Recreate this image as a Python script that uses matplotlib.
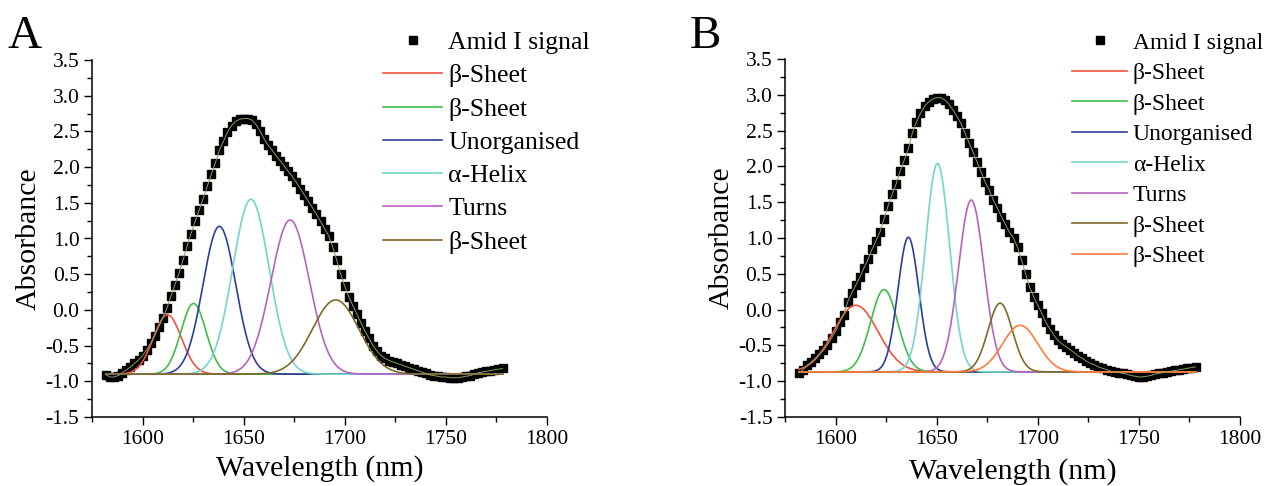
import matplotlib.pyplot as plt
import numpy as np

plt.rcParams['font.family'] = ['Liberation Serif', 'DejaVu Serif']

# wavelength sampling of the measured Amid I signal (nm)
wl = np.arange(1582, 1780, 2)

signal_a = [-0.91, -0.94, -0.94, -0.92, -0.88, -0.84, -0.80, -0.75, -0.70, -0.64,
            -0.56, -0.47, -0.36, -0.24, -0.11, 0.02, 0.19, 0.35, 0.51, 0.70,
            0.89, 1.07, 1.24, 1.40, 1.56, 1.73, 1.90, 2.06, 2.24, 2.36,
            2.49, 2.58, 2.64, 2.67, 2.68, 2.68, 2.66, 2.60, 2.51, 2.40,
            2.31, 2.24, 2.16, 2.09, 2.02, 1.94, 1.87, 1.79, 1.70, 1.61,
            1.52, 1.43, 1.34, 1.24, 1.14, 1.04, 0.88, 0.70, 0.50, 0.33,
            0.18, 0.06, -0.06, -0.18, -0.30, -0.40, -0.50, -0.58, -0.64, -0.68,
            -0.71, -0.73, -0.75, -0.77, -0.79, -0.81, -0.83, -0.85, -0.87, -0.89,
            -0.91, -0.92, -0.93, -0.94, -0.94, -0.95, -0.95, -0.95, -0.94, -0.93,
            -0.92, -0.90, -0.88, -0.87, -0.86, -0.85, -0.84, -0.83, -0.82]

signal_b = [-0.88, -0.84, -0.78, -0.73, -0.68, -0.62, -0.57, -0.49, -0.40, -0.30,
            -0.18, -0.07, 0.11, 0.23, 0.34, 0.45, 0.58, 0.70, 0.84, 0.96,
            1.09, 1.27, 1.45, 1.61, 1.76, 1.94, 2.09, 2.25, 2.47, 2.62,
            2.74, 2.84, 2.90, 2.94, 2.96, 2.96, 2.93, 2.87, 2.79, 2.70,
            2.60, 2.47, 2.33, 2.20, 2.06, 1.92, 1.78, 1.67, 1.53, 1.42,
            1.30, 1.19, 1.08, 1.00, 0.87, 0.69, 0.50, 0.31, 0.18, 0.06,
            -0.05, -0.18, -0.27, -0.36, -0.43, -0.48, -0.52, -0.56, -0.60, -0.65,
            -0.68, -0.72, -0.75, -0.77, -0.80, -0.82, -0.84, -0.86, -0.87, -0.88,
            -0.89, -0.90, -0.92, -0.93, -0.94, -0.94, -0.93, -0.92, -0.90, -0.89,
            -0.88, -0.87, -0.86, -0.85, -0.84, -0.83, -0.82, -0.81, -0.80]

# fitted Gaussian bands: centre (nm), peak value, sigma (nm)
labels_a = ['β-Sheet', 'β-Sheet', 'Unorganised', 'α-Helix', 'Turns', 'β-Sheet']
centers_a = [1612.3, 1625.2, 1638.0, 1653.6, 1673.0, 1695.5]
peaks_a = [-0.07, 0.09, 1.17, 1.55, 1.26, 0.14]
sigmas_a = [7.0, 6.2, 8.1, 9.0, 9.5, 11.5]
base_a = -0.90

labels_b = ['β-Sheet', 'β-Sheet', 'Unorganised', 'α-Helix', 'Turns', 'β-Sheet', 'β-Sheet']
centers_b = [1610.0, 1624.0, 1636.0, 1650.4, 1667.1, 1681.4, 1691.3]
peaks_b = [0.06, 0.28, 1.01, 2.04, 1.53, 0.09, -0.22]
sigmas_b = [11.0, 6.7, 5.2, 6.0, 6.3, 6.0, 8.7]
base_b = -0.87

colors = ['#f4523c', '#3fbd48', '#2e3c9c', '#72d6cc', '#b862c0', '#7e6a26', '#ff7c3c']

fig = plt.figure(figsize=(12.64, 4.86), dpi=100)
ax_a = fig.add_axes([92/1264, 69/486, 455/1264, 357/486])
ax_b = fig.add_axes([785/1264, 69/486, 455/1264, 358/486])


def draw_panel(ax, signal, labels, centers, peaks, sigmas, base):
    xf = np.linspace(wl[0], wl[-1], 800)
    sq, = ax.plot(wl, signal, 's', color='black', markersize=6.0, label='Amid I signal')
    handles = [sq]
    for i, lab in enumerate(labels):
        y = base + (peaks[i] - base) * np.exp(-0.5 * ((xf - centers[i]) / sigmas[i]) ** 2)
        ln, = ax.plot(xf, y, color=colors[i], lw=1.2, label=lab)
        handles.append(ln)
    ax.plot(wl, signal, color='#7fa35a', lw=0.7)
    ax.set_xlim(1575, 1800)
    ax.set_ylim(-1.5, 3.5)
    ax.set_xticks([1600, 1650, 1700, 1750, 1800])
    ax.set_xticks(np.arange(1575, 1800, 25), minor=True)
    ax.set_yticks(np.arange(-1.5, 3.6, 0.5))
    ax.set_yticks(np.arange(-1.5, 3.5, 0.25), minor=True)
    ax.set_yticklabels(['%.1f' % v for v in np.arange(-1.5, 3.6, 0.5)])
    for s in ['top', 'right']:
        ax.spines[s].set_visible(False)
    for s in ['left', 'bottom']:
        ax.spines[s].set_linewidth(1.1)
    ax.tick_params(which='major', direction='out', length=6, width=1.0, labelsize=15.5, pad=3)
    ax.tick_params(which='minor', direction='out', length=3.5, width=1.0)
    ax.set_ylabel('Absorbance', fontsize=21.5, labelpad=3)
    return handles


h_a = draw_panel(ax_a, signal_a, labels_a, centers_a, peaks_a, sigmas_a, base_a)
h_b = draw_panel(ax_b, signal_b, labels_b, centers_b, peaks_b, sigmas_b, base_b)

ax_a.set_xlabel('Wavelength (nm)', fontsize=21.5, labelpad=5)
ax_b.set_xlabel('Wavelength (nm)', fontsize=21.5, labelpad=7)

fig.legend(handles=h_a, loc='upper left', bbox_to_anchor=(383/1264, 1 - 31/486),
           frameon=False, fontsize=18.5, numpoints=1, handlelength=2.3,
           handletextpad=0.24, labelspacing=0.4, borderpad=0, borderaxespad=0)
fig.legend(handles=h_b, loc='upper left', bbox_to_anchor=(1072/1264, 1 - 32/486),
           frameon=False, fontsize=17, numpoints=1, handlelength=2.33,
           handletextpad=0.25, labelspacing=0.38, borderpad=0, borderaxespad=0)

fig.text(8/1264, 1 - 48/486, 'A', fontsize=34)
fig.text(690/1264, 1 - 48/486, 'B', fontsize=34)

fig.savefig('out.png', dpi=100)
